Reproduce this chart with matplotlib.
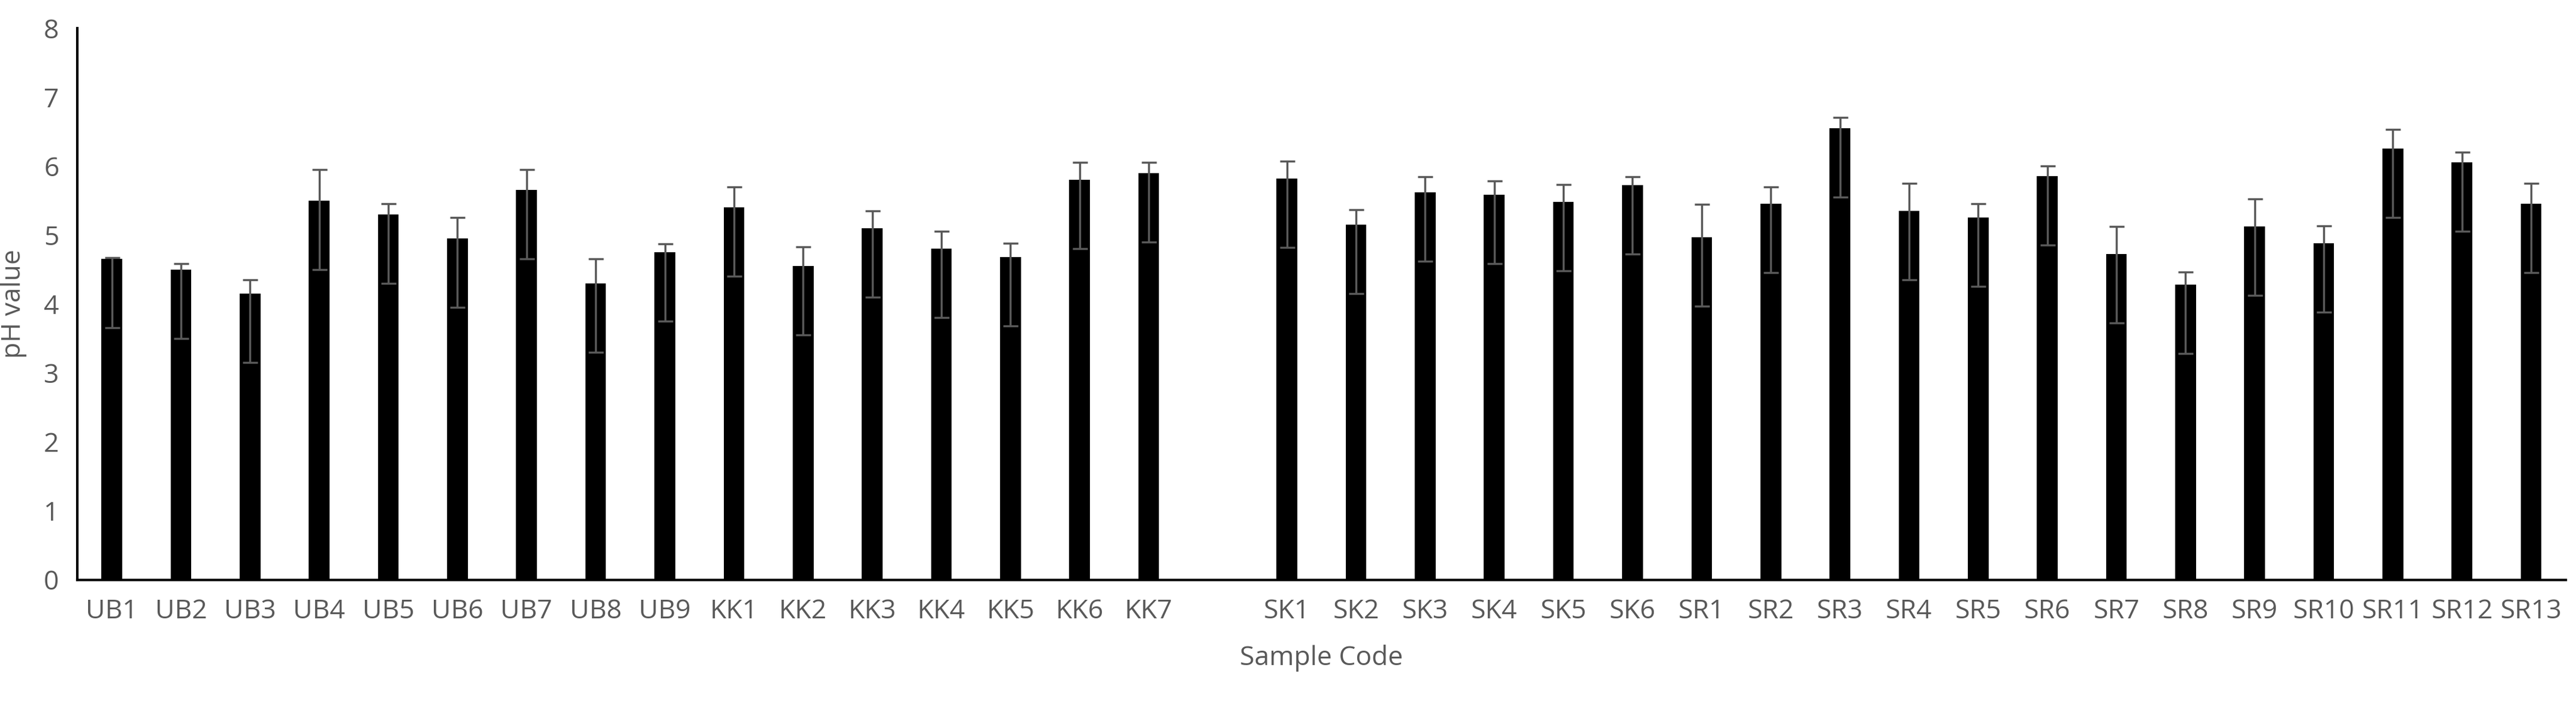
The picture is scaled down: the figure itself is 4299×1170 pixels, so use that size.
import matplotlib.pyplot as plt
import numpy as np

labels = ["UB1", "UB2", "UB3", "UB4", "UB5", "UB6", "UB7", "UB8", "UB9",
          "KK1", "KK2", "KK3", "KK4", "KK5", "KK6", "KK7", "",
          "SK1", "SK2", "SK3", "SK4", "SK5", "SK6",
          "SR1", "SR2", "SR3", "SR4", "SR5", "SR6", "SR7", "SR8", "SR9",
          "SR10", "SR11", "SR12", "SR13"]
ph = [4.65, 4.5, 4.15, 5.5, 5.3, 4.95, 5.65, 4.3, 4.75,
      5.4, 4.55, 5.1, 4.8, 4.68, 5.8, 5.9, np.nan,
      5.82, 5.15, 5.62, 5.58, 5.48, 5.72,
      4.97, 5.45, 6.55, 5.35, 5.25, 5.85, 4.72, 4.28, 5.12,
      4.88, 6.25, 6.05, 5.45]
err_up = [0.02, 0.08, 0.2, 0.45, 0.15, 0.3, 0.3, 0.35, 0.12,
          0.3, 0.28, 0.25, 0.25, 0.2, 0.25, 0.15, np.nan,
          0.25, 0.22, 0.22, 0.2, 0.25, 0.12,
          0.47, 0.25, 0.15, 0.4, 0.2, 0.15, 0.4, 0.18, 0.4,
          0.25, 0.28, 0.15, 0.3]
err_down = [1.0] * len(ph)

grey = "#595959"
plt.rcParams["font.family"] = ["Open Sans", "DejaVu Sans"]

fig = plt.figure(figsize=(42.99, 11.7), dpi=100)
ax = fig.add_axes([0.030, 0.173, 0.966, 0.787])

x = np.arange(len(labels))
ax.bar(x, ph, width=0.3, color="black", zorder=2)
ax.errorbar(x, ph, yerr=[err_down, err_up], fmt="none", ecolor=grey,
            elinewidth=2.5, capsize=9, capthick=2.5, zorder=3)

ax.set_xlim(-0.5, len(labels) - 0.5)
ax.set_ylim(0, 8)
ax.set_yticks(range(9))
ax.set_xticks(x)
ax.set_xticklabels(labels)
ax.tick_params(axis="both", length=0, labelsize=32, colors=grey, pad=22)
for s in ["top", "right"]:
    ax.spines[s].set_visible(False)
ax.spines["left"].set_linewidth(3)
ax.spines["bottom"].set_linewidth(3)
ax.set_xlabel("Sample Code", fontsize=32, color=grey, labelpad=24)
ax.set_ylabel("pH value", fontsize=32, color=grey, labelpad=20)

fig.savefig("out.png", dpi=100)
